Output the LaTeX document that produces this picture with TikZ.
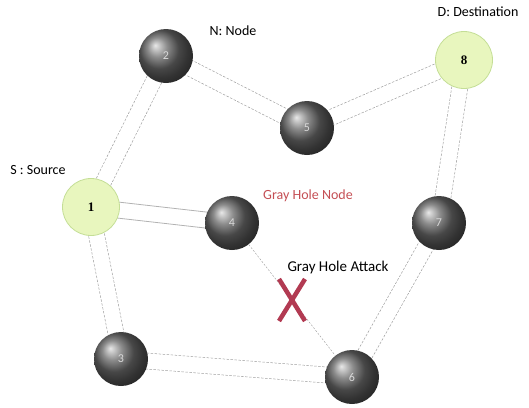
\documentclass[tikz,border=0pt]{standalone}
\usepackage{fontspec}
\setmainfont{Carlito}
\newfontfamily\numfont{Liberation Serif}
\usetikzlibrary{backgrounds,calc}

\definecolor{palegreen}{RGB}{232,246,190}
\definecolor{rimgreen}{RGB}{196,222,150}
\definecolor{holered}{RGB}{196,78,84}
\definecolor{crossred}{RGB}{178,58,82}

% two parallel strokes between a pair of nodes
\newcommand\link[3][hop]{%
  \draw[#1] ($(#2)!8pt!90:(#3)$) -- ($(#3)!8pt!-90:(#2)$);
  \draw[#1] ($(#2)!8pt!-90:(#3)$) -- ($(#3)!8pt!90:(#2)$);}

\begin{document}
\begin{tikzpicture}[x=1pt, y=-1pt, thick,
  main/.style = {circle, minimum size=54pt, inner sep=0pt, ball color=black!60, text=white!85!black, font=\fontsize{12}{14}\selectfont},
  term/.style = {circle, minimum size=57pt, inner sep=0pt, draw=rimgreen, fill=palegreen, font=\numfont\bfseries\fontsize{13}{15}\selectfont},
  hop/.style = {draw=gray!75, line width=0.5pt, dash pattern=on 2.5pt off 1.5pt},
  wire/.style = {draw=gray!60, line width=0.8pt},
  tag/.style = {font=\fontsize{14}{16}\selectfont}]
\useasboundingbox (0,0) rectangle (529,407);

\node[term] (n1) at (91,207) {1};
\node[main] (n2) at (166,56) {2};
\node[main] (n3) at (121,359) {3};
\node[main] (n4) at (232,223) {4};
\node[main] (n5) at (307,128) {5};
\node[main] (n6) at (352,377) {6};
\node[main] (n7) at (439,223) {7};
\node[term] (n8) at (464,60) {8};

\node[tag] (src) at (38,170) {S : Source};
\node[tag] (nod) at (233,31) {N: Node};
\node[tag, anchor=west] (dst) at (434,12) {D: Destination};
\node[tag, text=holered] (ghn) at (308,196) {Gray Hole Node};
\node[tag, font=\fontsize{15}{17}\selectfont] (gha) at (338,267) {Gray Hole Attack};

\begin{scope}[on background layer]
\link{n1}{n2}
\link{n2}{n5}
\link{n5}{n8}
\link{n8}{n7}
\link{n7}{n6}
\link{n6}{n3}
\link{n3}{n1}
\link[wire]{n1}{n4}
\draw[gray!80, line width=0.4pt, dash pattern=on 2pt off 1.5pt] (n4) -- coordinate[pos=0.5] (cut) (n6);
\end{scope}

\draw[crossred, line width=4.5pt] ([shift={(-13,-21)}]cut) -- ([shift={(13,21)}]cut)
  ([shift={(13,-21)}]cut) -- ([shift={(-13,21)}]cut);
\end{tikzpicture}
\end{document}
